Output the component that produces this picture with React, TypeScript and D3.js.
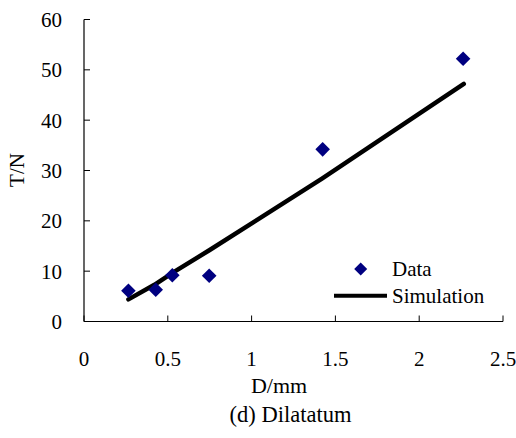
import React from "react";
import * as d3 from "d3";

const dataX = [0.265, 0.428, 0.527, 0.747, 1.424, 2.262];
const dataY = [6.1, 6.3, 9.2, 9.1, 34.2, 52.2];
const simX = [0.265, 0.42, 0.53, 0.75, 1.42, 2.266];
const simY = [4.4, 7.3, 9.7, 14.2, 28.4, 47.2];
const xTicks = [0, 0.5, 1, 1.5, 2, 2.5];
const yTicks = [0, 10, 20, 30, 40, 50, 60];
const legendLabels = ["Data", "Simulation"];
const xTitle = "D/mm";
const yTitle = "T/N";
const caption = "(d) Dilatatum";

const W = 516;
const H = 438;
const FONT = "'Liberation Serif', 'Times New Roman', serif";
const NAVY = "#000080";
const FS = 21;
const ts = { fontFamily: FONT, fontSize: FS } as const;

export default function App() {
  const x = d3.scaleLinear().domain([0, 2.5]).range([84, 503]);
  const y = d3.scaleLinear().domain([0, 60]).range([321.5, 19.5]);
  const line = d3
    .line<number>()
    .x((_, i) => x(simX[i]))
    .y((d) => y(d));
  const diamond = (cx: number, cy: number, r: number) =>
    `M${cx},${cy - r}L${cx + r},${cy}L${cx},${cy + r}L${cx - r},${cy}Z`;

  return (
    <svg
      width={W}
      height={H}
      style={{ position: "absolute", left: 0, top: 0, background: "#fff" }}
    >
      <rect width={W} height={H} fill="#fff" />
      <line x1={x(0)} x2={x(0)} y1={y(60)} y2={y(0)} stroke="#000" strokeWidth={1.2} />
      <line x1={x(0)} x2={x(2.5)} y1={y(0)} y2={y(0)} stroke="#000" strokeWidth={1.2} />
      {yTicks.map((t) => (
        <g key={"y" + t}>
          <line x1={x(0)} x2={x(0) + 6} y1={y(t)} y2={y(t)} stroke="#000" strokeWidth={1} />
          <text x={62} y={y(t)} dy="0.35em" textAnchor="end" style={ts} fill="#000">
            {t}
          </text>
        </g>
      ))}
      {xTicks.map((t) => (
        <g key={"x" + t}>
          <line x1={x(t)} x2={x(t)} y1={y(0)} y2={y(0) - 6} stroke="#000" strokeWidth={1} />
          <text x={x(t)} y={366} textAnchor="middle" style={ts} fill="#000">
            {t}
          </text>
        </g>
      ))}
      <text x={279} y={393} textAnchor="middle" style={{ ...ts, fontSize: 22 }} fill="#000">
        {xTitle}
      </text>
      <text transform={`translate(24,170) rotate(-90)`} textAnchor="middle" style={ts} fill="#000">
        {yTitle}
      </text>
      <text x={290.5} y={422} textAnchor="middle" style={{ ...ts, fontSize: 22.5 }} fill="#000">
        {caption}
      </text>
      <path
        d={line(simY) || ""}
        fill="none"
        stroke="#000"
        strokeWidth={4.5}
        strokeLinecap="round"
        strokeLinejoin="round"
      />
      {dataX.map((dx, i) => (
        <path key={i} d={diamond(x(dx), y(dataY[i]), 7.3)} fill={NAVY} />
      ))}
      <path d={diamond(360.7, 269, 6.5)} fill={NAVY} />
      <text x={392} y={276} style={ts} fill="#000">
        {legendLabels[0]}
      </text>
      <line x1={334} x2={387} y1={295.7} y2={295.7} stroke="#000" strokeWidth={4} />
      <text x={392} y={303} style={ts} fill="#000">
        {legendLabels[1]}
      </text>
    </svg>
  );
}
